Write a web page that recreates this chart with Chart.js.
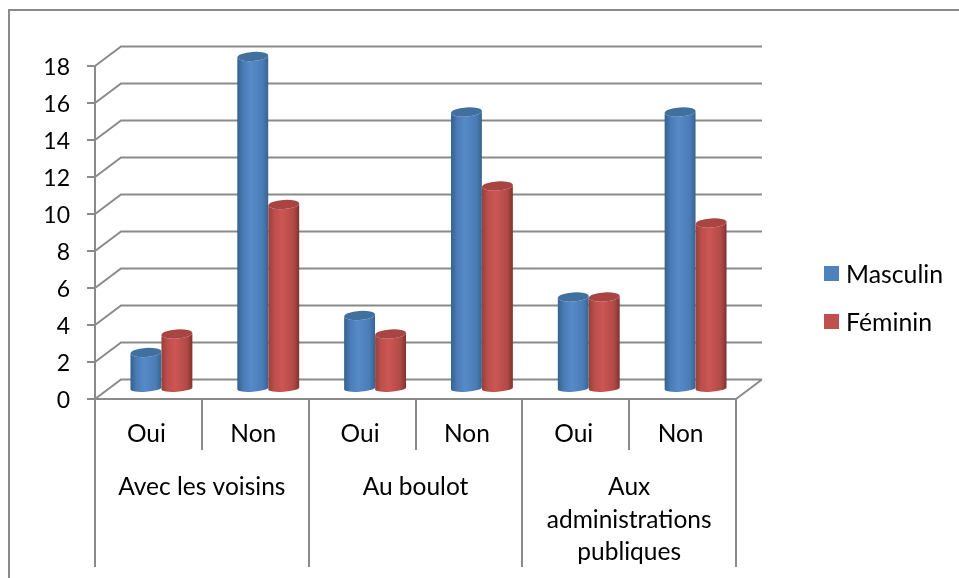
<!DOCTYPE html>
<html lang="fr">
<head>
<meta charset="utf-8">
<title>Masculin / Féminin</title>
<script src="https://cdn.jsdelivr.net/npm/chart.js@4/dist/chart.umd.min.js"></script>
<style>
  html, body { margin: 0; padding: 0; background: #fff; }
  #wrap { position: relative; width: 959px; height: 578px; }
</style>
</head>
<body>
<div id="wrap"><canvas id="chart"></canvas></div>
<script>
const answers = ['Oui', 'Non', 'Oui', 'Non', 'Oui', 'Non'];
const places = ['Avec les voisins', 'Au boulot', ['Aux', 'administrations', 'publiques']];
const masculin = [2, 18, 4, 15, 5, 15];
const feminin = [3, 10, 3, 11, 5, 9];
const yTicks = [0, 2, 4, 6, 8, 10, 12, 14, 16, 18];

const lineGrey = '#8a8a8a';
const fontFamily = 'Lato, "Open Sans", sans-serif';
const fontSize = 24.5;

// depth of the fake 3D box, and how far into it the cylinders stand
const wallDx = 26, wallDy = -19.5;
const barDx = 13, barDy = -9.5;

const shades = {
  Masculin: { stops: ['#36608f', '#4a7cb6', '#568ac8', '#4a7cb6', '#38638f'], top: '#41709f' },
  'Féminin': { stops: ['#964039', '#bd4f4c', '#cc5653', '#b04a47', '#80322f'], top: '#a84442' }
};

function drawWalls(chart) {
  const { ctx, chartArea: area, scales: { y } } = chart;
  ctx.save();
  ctx.strokeStyle = lineGrey;
  ctx.lineWidth = 2;
  ctx.beginPath();
  yTicks.forEach(v => {
    const py = y.getPixelForValue(v);
    ctx.moveTo(area.left, py);
    ctx.lineTo(area.left + wallDx, py + wallDy);
    ctx.lineTo(area.right + wallDx, py + wallDy);
  });
  // floor edge on the right
  ctx.moveTo(area.right, area.bottom);
  ctx.lineTo(area.right + wallDx, area.bottom + wallDy);
  ctx.stroke();
  ctx.restore();
}

function drawCylinder(ctx, bar, shade) {
  const rx = bar.width / 2, ry = 4.6, tilt = -0.07;
  const cx = bar.x + barDx;
  const top = bar.y + barDy;
  const bottom = bar.base + barDy;
  const grad = ctx.createLinearGradient(cx - rx, 0, cx + rx, 0);
  shade.stops.forEach((c, i) => grad.addColorStop([0, 0.2, 0.45, 0.82, 1][i], c));

  ctx.beginPath();
  ctx.ellipse(cx, top, rx, ry, tilt, Math.PI, 0, true);
  ctx.ellipse(cx, bottom, rx, ry - 1.4, tilt, 0, Math.PI);
  ctx.closePath();
  ctx.fillStyle = grad;
  ctx.fill();

  ctx.beginPath();
  ctx.ellipse(cx, top, rx, ry, tilt, 0, Math.PI * 2);
  ctx.fillStyle = shade.top;
  ctx.fill();
}

const box3d = {
  id: 'box3d',
  beforeDraw(chart) {
    // outer frame, only its top and left edges are inside the page
    const { ctx, width, height } = chart;
    ctx.save();
    ctx.strokeStyle = lineGrey;
    ctx.lineWidth = 2;
    ctx.beginPath();
    ctx.moveTo(9, height);
    ctx.lineTo(9, 10);
    ctx.lineTo(width, 10);
    ctx.stroke();
    ctx.restore();
  },
  beforeDatasetsDraw(chart) {
    drawWalls(chart);
    const { ctx } = chart;
    ctx.save();
    answers.forEach((_, i) => {
      chart.data.datasets.forEach((ds, d) => {
        drawCylinder(ctx, chart.getDatasetMeta(d).data[i], shades[ds.label]);
      });
    });
    ctx.restore();
    return false; // cylinders replace the flat bars
  },
  afterDraw(chart) {
    const { ctx } = chart;
    ctx.save();
    ctx.font = '24.8px ' + fontFamily;
    ctx.textBaseline = 'middle';
    chart.data.datasets.forEach((ds, d) => {
      const y = 274 + d * 48;
      ctx.fillStyle = ds.backgroundColor;
      ctx.fillRect(824, y - 8, 15, 15);
      ctx.fillStyle = '#000';
      ctx.fillText(ds.label, 846, y + 1);
    });
    ctx.restore();
  }
};

const tickFont = { family: fontFamily, size: fontSize };

new Chart(document.getElementById('chart'), {
  type: 'bar',
  data: {
    labels: answers,
    datasets: [
      { label: 'Masculin', data: masculin, backgroundColor: '#4f81bd' },
      { label: 'Féminin', data: feminin, backgroundColor: '#c0504d' }
    ]
  },
  plugins: [box3d],
  options: {
    responsive: true,
    maintainAspectRatio: false,
    animation: false,
    layout: { padding: { left: 0, top: 66, right: 223, bottom: 11 } },
    plugins: { legend: { display: false }, tooltip: { enabled: false } },
    datasets: { bar: { categoryPercentage: 0.58, barPercentage: 1 } },
    scales: {
      x: {
        weight: 0,
        afterFit: s => { s.height = 51; },
        grid: { drawOnChartArea: false, color: lineGrey, lineWidth: 2, tickLength: 51, offset: true },
        border: { color: lineGrey, width: 2 },
        ticks: { color: '#000', font: tickFont, padding: -31, labelOffset: -2, maxRotation: 0, autoSkip: false }
      },
      x2: {
        type: 'category',
        position: 'bottom',
        weight: 1,
        labels: places,
        offset: true,
        afterFit: s => { s.height = 117; },
        grid: { drawOnChartArea: false, color: lineGrey, lineWidth: 2, tickLength: 117, offset: true },
        border: { display: false },
        ticks: { color: '#000', font: { ...tickFont, lineHeight: 1.33 }, padding: -96, maxRotation: 0, autoSkip: false }
      },
      y: {
        min: 0,
        max: 18,
        afterFit: s => { s.width = 95; },
        afterBuildTicks: s => { s.ticks = yTicks.map(v => ({ value: v })); },
        grid: { drawOnChartArea: false, color: lineGrey, lineWidth: 2, tickLength: 8 },
        border: { color: lineGrey, width: 2 },
        ticks: { color: '#000', font: { family: fontFamily, size: 23 }, padding: 17, labelOffset: 2 }
      }
    }
  }
});
</script>
</body>
</html>
